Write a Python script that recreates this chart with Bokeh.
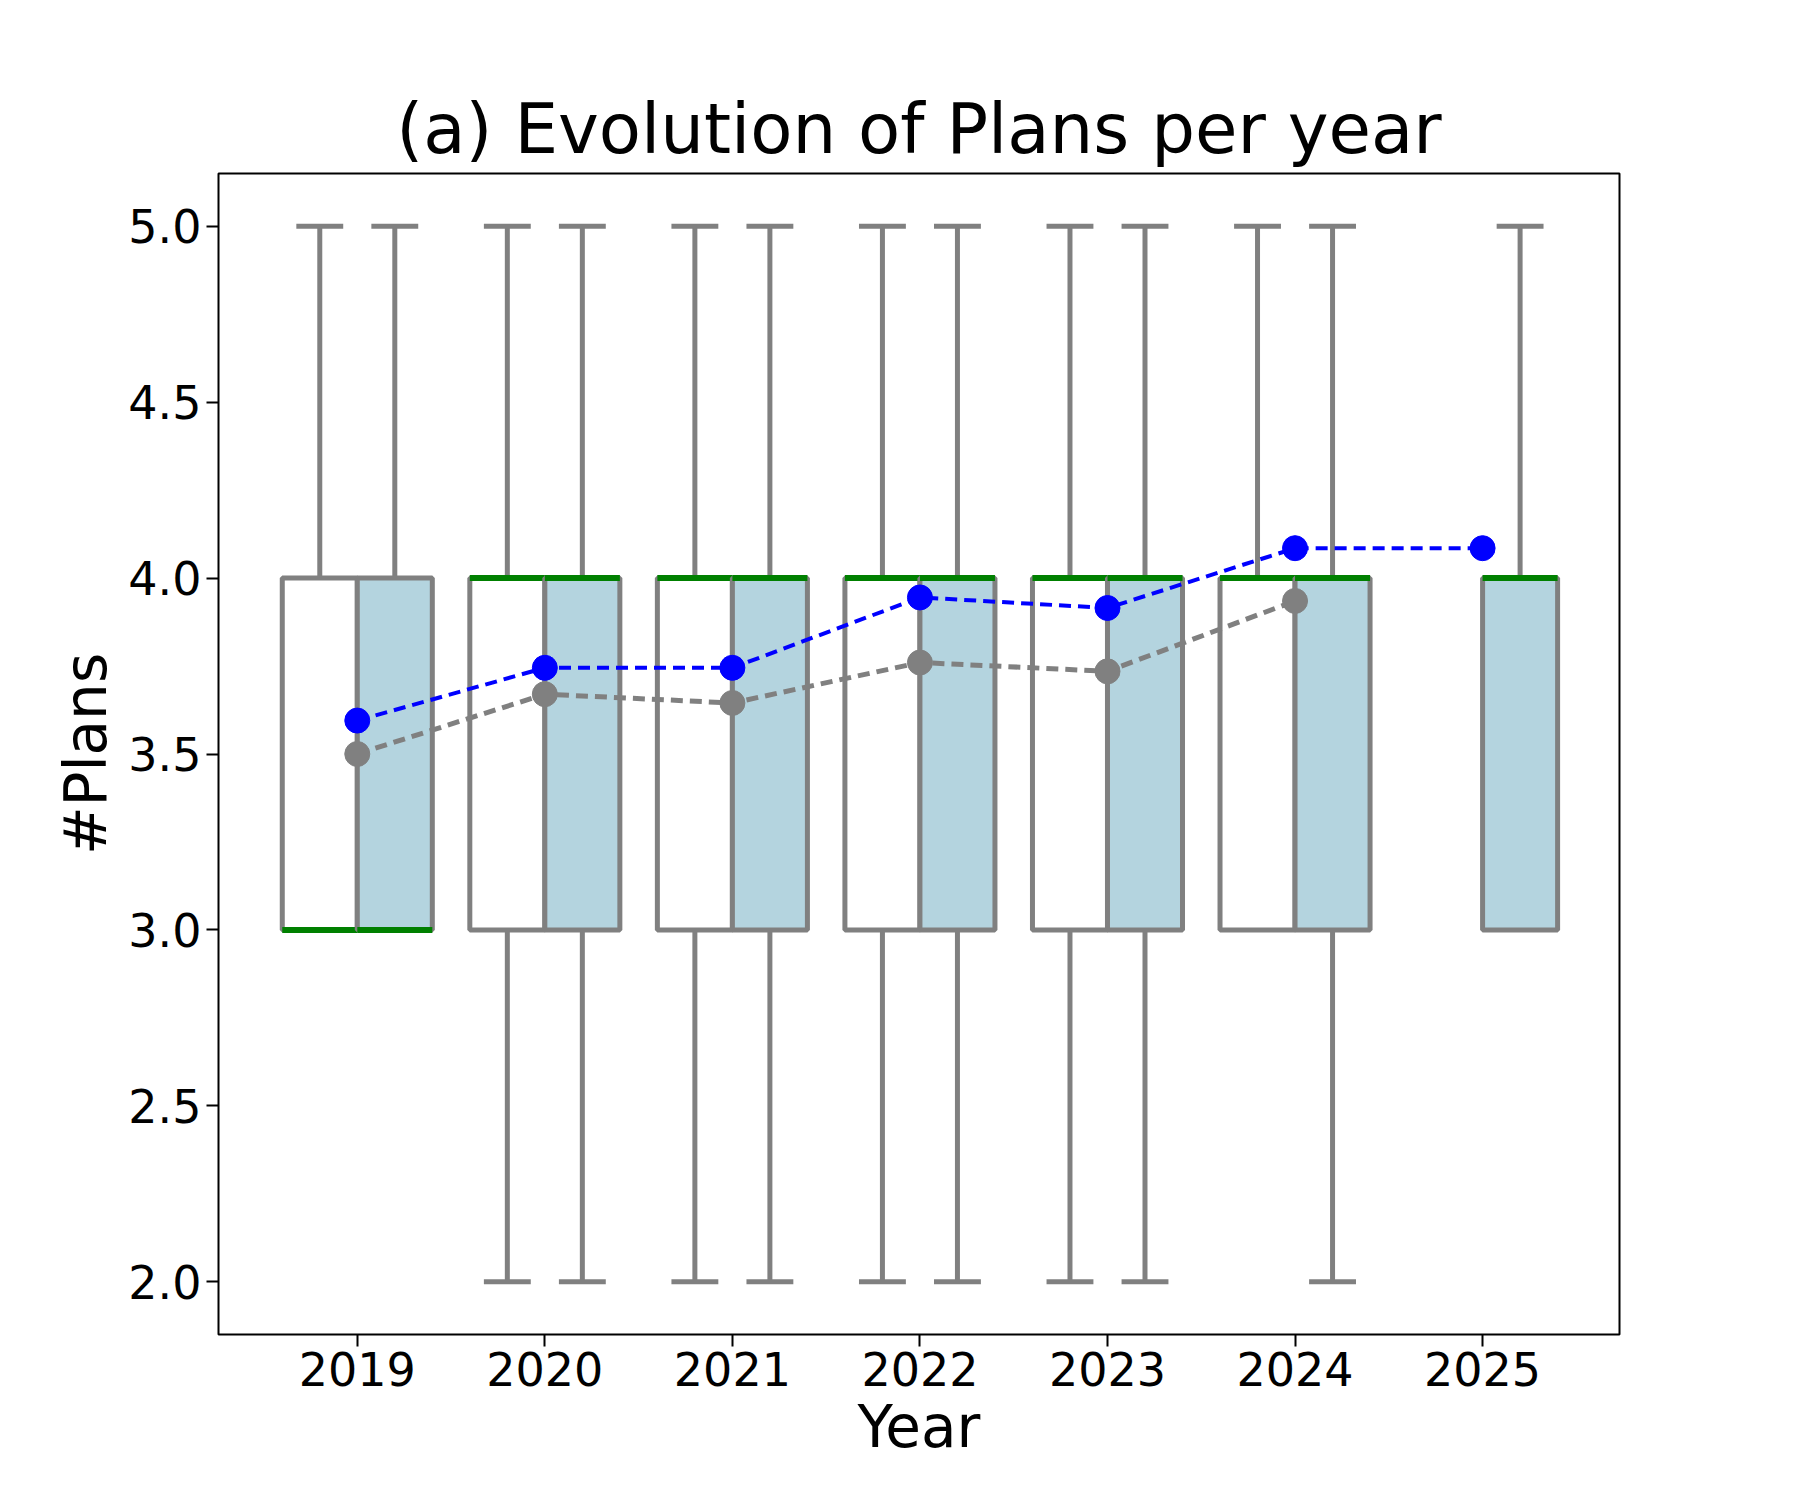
from bokeh.plotting import figure
from bokeh.models import Range1d, FixedTicker, CustomJSTickFormatter
from bokeh.embed import file_html
from bokeh.resources import INLINE

years = [2019, 2020, 2021, 2022, 2023, 2024, 2025]

# left (white) boxes, no 2025
left_years = [2019, 2020, 2021, 2022, 2023, 2024]
left_q1 = [3, 3, 3, 3, 3, 3]
left_q3 = [4, 4, 4, 4, 4, 4]
left_med = [3, 4, 4, 4, 4, 4]
left_lo = [3, 2, 2, 2, 2, 3]
left_hi = [5, 5, 5, 5, 5, 5]
left_mean = [3.50, 3.67, 3.645, 3.76, 3.735, 3.935]

# right (light blue) boxes
right_q1 = [3, 3, 3, 3, 3, 3, 3]
right_q3 = [4, 4, 4, 4, 4, 4, 4]
right_med = [3, 4, 4, 4, 4, 4, 4]
right_lo = [3, 2, 2, 2, 2, 2, 3]
right_hi = [5, 5, 5, 5, 5, 5, 5]
right_mean = [3.595, 3.745, 3.745, 3.945, 3.915, 4.085, 4.085]

p = figure(width=1784, height=1484, output_backend="svg", toolbar_location=None,
           x_range=Range1d(2018.26, 2025.73), y_range=Range1d(1.85, 5.15),
           title="(a) Evolution of Plans per year",
           min_border_left=218, min_border_right=165, min_border_top=173, min_border_bottom=150)

def draw_boxes(xs, q1, q3, med, lo, hi, off, fill):
    c = [x + off for x in xs]
    w = 0.2
    cap = 0.125
    p.segment(x0=c, y0=q3, x1=c, y1=hi, line_color="grey", line_width=5)
    p.segment(x0=c, y0=lo, x1=c, y1=q1, line_color="grey", line_width=5)
    p.segment(x0=[x - cap for x in c], y0=hi, x1=[x + cap for x in c], y1=hi, line_color="grey", line_width=5)
    lc = [(x, l) for x, l, q in zip(c, lo, q1) if l < q]
    p.segment(x0=[x - cap for x, _ in lc], y0=[l for _, l in lc], x1=[x + cap for x, _ in lc],
              y1=[l for _, l in lc], line_color="grey", line_width=5)
    p.quad(left=[x - w for x in c], right=[x + w for x in c], bottom=q1, top=q3,
           fill_color=fill, line_color="grey", line_width=5)
    p.segment(x0=[x - w for x in c], y0=med, x1=[x + w for x in c], y1=med, line_color="green", line_width=6)

draw_boxes(left_years, left_q1, left_q3, left_med, left_lo, left_hi, -0.2, "white")
draw_boxes(years, right_q1, right_q3, right_med, right_lo, right_hi, 0.2, "#b4d4df")

p.line(left_years, left_mean, line_color="grey", line_width=5, line_dash="12 7")
p.scatter(left_years, left_mean, size=25, fill_color="grey", line_color="grey")
p.line(years, right_mean, line_color="blue", line_width=4, line_dash="12 7")
p.scatter(years, right_mean, size=25, fill_color="blue", line_color="blue")

p.xgrid.visible = False
p.ygrid.visible = False
p.outline_line_color = "black"
p.outline_line_width = 2
p.title.text_font = "DejaVu Sans"
p.title.text_font_size = "69px"
p.title.text_font_style = "normal"
p.title.text_color = "black"
p.title.align = "center"
p.xaxis.ticker = FixedTicker(ticks=years)
p.yaxis.ticker = FixedTicker(ticks=[2.0, 2.5, 3.0, 3.5, 4.0, 4.5, 5.0])
p.yaxis.formatter = CustomJSTickFormatter(code="return tick.toFixed(1);")
p.xaxis.axis_label = "Year"
p.yaxis.axis_label = "#Plans"
for ax in (p.xaxis, p.yaxis):
    ax.axis_label_text_font = "DejaVu Sans"
    ax.axis_label_text_font_size = "58px"
    ax.axis_label_text_font_style = "normal"
    ax.axis_label_text_color = "black"
    ax.major_label_text_font = "DejaVu Sans"
    ax.major_label_text_font_size = "46px"
    ax.major_label_text_color = "black"
    ax.axis_line_color = None
    ax.minor_tick_line_color = None
    ax.major_tick_line_width = 2
    ax.major_tick_in = 0
    ax.major_tick_out = 12
p.xaxis.axis_label_standoff = 4

open("out.html", "w").write(file_html(p, INLINE))
